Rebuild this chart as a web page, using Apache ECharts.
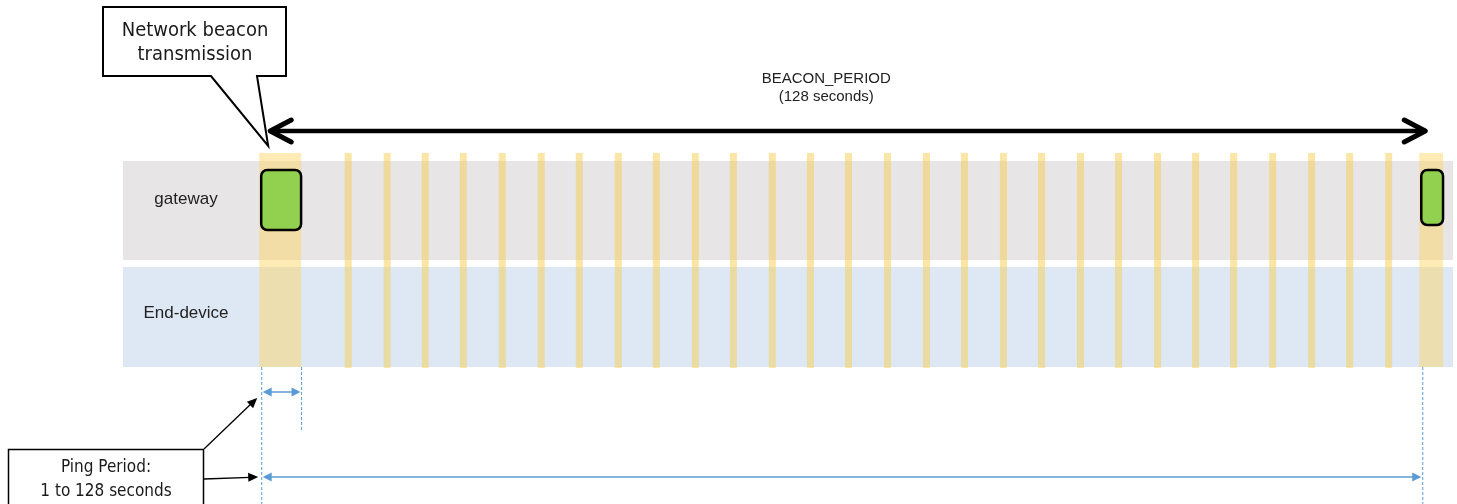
<!DOCTYPE html>
<html><head><meta charset="utf-8">
<script src="https://cdn.jsdelivr.net/npm/echarts@6/dist/echarts.min.js"></script>
<style>html,body{margin:0;padding:0;background:#fff}#c{width:1457px;height:504px}</style>
</head><body><div id="c"></div>
<script>
// ---- data (seconds) ----
const lanes = ['End-device', 'gateway'];
const beaconTimes = [0, 128];
const beaconDurations = [4.4, 2.4];
const pingSlotTimes = [9.6, 13.9, 18.1, 22.3, 26.6, 30.9, 35.1, 39.4, 43.6, 47.9, 52.1, 56.4, 60.6, 64.8,
  69.1, 73.4, 77.6, 81.9, 86.1, 90.4, 94.6, 98.9, 103.1, 107.3, 111.6, 115.9, 120.1, 124.4];
const beaconPeriod = 128;
const pingPeriodExample = 4.4;
const beaconLabel = ['BEACON_PERIOD', '(128 seconds)'];
const beaconCallout = ['Network beacon', 'transmission'];
const pingCallout = ['Ping Period:', '1 to 128 seconds'];

// ---- styles ----
const laneColors = ['#dde8f4', '#e7e5e5'];
const laneLabelDy = [46, 38];
const boxHeights = [60, 55];
const BLUE = '#5b9bd5';
const CALLOUT_FONT = '"DejaVu Sans Condensed", "DejaVu Sans", sans-serif';
const ARIAL = '"Liberation Sans", Arial, sans-serif';

function arrowHead(tipX, tipY, fromX, fromY, len, half, fill) {
  const dx = tipX - fromX, dy = tipY - fromY, L = Math.hypot(dx, dy);
  const ux = dx / L, uy = dy / L, bx = tipX - ux * len, by = tipY - uy * len;
  return { type: 'polygon', shape: { points: [[tipX, tipY], [bx - uy * half, by + ux * half], [bx + uy * half, by - ux * half]] },
    style: { fill: fill, stroke: null } };
}
function text(t, x, y, font, fill) {
  return { type: 'text', style: { text: t, x: x, y: y, font: font, fill: fill || '#222', align: 'center', verticalAlign: 'middle' } };
}

const chart = echarts.init(document.getElementById('c'), null, { renderer: 'canvas' });
chart.setOption({
  animation: false,
  backgroundColor: '#ffffff',
  grid: { left: 123, right: 4, top: 161, bottom: 137 },
  xAxis: { type: 'value', min: -15.25, max: 131.5, show: false },
  yAxis: { type: 'value', min: 0, max: 2, show: false },
  series: [
    { // lanes
      type: 'custom', clip: false, z: 1,
      data: lanes.map((l, i) => [i]),
      renderItem: function (params, api) {
        const i = api.value(0), cs = params.coordSys;
        let top = api.coord([0, i + 1])[1], bot = api.coord([0, i])[1];
        if (i === 0) top += 3; else bot -= 4;
        return { type: 'group', children: [
          { type: 'rect', shape: { x: cs.x, y: top, width: cs.width, height: bot - top }, style: { fill: laneColors[i] } },
          text(lanes[i], cs.x + 63, top + laneLabelDy[i], '17px ' + ARIAL, '#222')
        ] };
      }
    },
    { // beacon reserved slots
      type: 'custom', clip: false, z: 2,
      data: beaconTimes.map((t, i) => [t, beaconDurations[i]]),
      renderItem: function (params, api) {
        const t = api.value(0), d = api.value(1);
        const x0 = api.coord([t, 0])[0] - 2, x1 = api.coord([t + d, 0])[0];
        const top = api.coord([0, 2])[1] - 8, bot = api.coord([0, 0])[1];
        return { type: 'rect', shape: { x: x0, y: top, width: x1 - x0, height: bot - top }, style: { fill: 'rgba(255,210,90,0.45)' } };
      }
    },
    { // ping slots
      type: 'custom', clip: false, z: 2,
      data: pingSlotTimes.map(t => [t]),
      renderItem: function (params, api) {
        const xc = api.coord([api.value(0), 0])[0];
        const top = api.coord([0, 2])[1] - 8, bot = api.coord([0, 0])[1] + 1;
        return { type: 'rect', shape: { x: xc - 3.5, y: top, width: 7, height: bot - top }, style: { fill: 'rgba(248,205,80,0.5)' } };
      }
    },
    { // beacon transmissions
      type: 'custom', clip: false, z: 3,
      data: beaconTimes.map((t, i) => [t, beaconDurations[i]]),
      renderItem: function (params, api) {
        const t = api.value(0), d = api.value(1), idx = params.dataIndex;
        const x0 = api.coord([t, 0])[0], x1 = api.coord([t + d, 0])[0];
        const top = api.coord([0, 2])[1] + 9;
        return { type: 'rect', shape: { x: x0, y: top, width: x1 - x0, height: boxHeights[idx], r: 6 },
          style: { fill: '#92d050', stroke: '#000', lineWidth: 2.5 } };
      }
    },
    { // annotations
      type: 'custom', clip: false, z: 4,
      data: [[0]],
      renderItem: function (params, api) {
        const x0 = api.coord([0, 0])[0];
        const xP = api.coord([pingPeriodExample, 0])[0];
        const xB = api.coord([beaconPeriod, 0])[0];
        const yb = api.coord([0, 0])[1];
        const c = [];
        // BEACON_PERIOD double arrow
        const ay = 131, aL = x0 + 9, aR = xB + 4;
        c.push({ type: 'line', shape: { x1: aL + 2, y1: ay, x2: aR - 2, y2: ay }, style: { stroke: '#000', lineWidth: 4.5 } });
        c.push({ type: 'polyline', shape: { points: [[aL + 21, ay - 11], [aL, ay], [aL + 21, ay + 11]] }, style: { stroke: '#000', lineWidth: 5, lineCap: 'round', lineJoin: 'round', fill: null } });
        c.push({ type: 'polyline', shape: { points: [[aR - 21, ay - 11], [aR, ay], [aR - 21, ay + 11]] }, style: { stroke: '#000', lineWidth: 5, lineCap: 'round', lineJoin: 'round', fill: null } });
        const mx = (x0 + xB) / 2 - 15;
        c.push(text(beaconLabel[0], mx, 79, '15px ' + ARIAL, '#222'));
        c.push(text(beaconLabel[1], mx, 97, '15px ' + ARIAL, '#222'));
        // Network beacon callout
        c.push({ type: 'polygon', shape: { points: [[103, 7], [286, 7], [286, 76], [257, 76], [x0 + 7, 146], [211, 76], [103, 76]] },
          style: { fill: '#fff', stroke: '#000', lineWidth: 2, lineJoin: 'miter' } });
        c.push(text(beaconCallout[0], 195, 31, '20px ' + CALLOUT_FONT, '#1a1a1a'));
        c.push(text(beaconCallout[1], 195, 55, '20px ' + CALLOUT_FONT, '#1a1a1a'));
        // dashed guides
        const dash = { stroke: BLUE, lineWidth: 1, lineDash: [3, 2] };
        c.push({ type: 'line', shape: { x1: x0 + 0.5, y1: yb, x2: x0 + 0.5, y2: 504 }, style: dash });
        c.push({ type: 'line', shape: { x1: xP + 0.5, y1: yb, x2: xP + 0.5, y2: 432 }, style: dash });
        c.push({ type: 'line', shape: { x1: xB + 1.5, y1: yb, x2: xB + 1.5, y2: 504 }, style: dash });
        // blue arrows
        function blueArrow(xa, xb, y) {
          c.push({ type: 'line', shape: { x1: xa + 6, y1: y, x2: xb - 6, y2: y }, style: { stroke: BLUE, lineWidth: 1.5 } });
          c.push(arrowHead(xa, y, xb, y, 9, 4.5, BLUE));
          c.push(arrowHead(xb, y, xa, y, 9, 4.5, BLUE));
        }
        blueArrow(x0 + 1.5, xP - 0.5, 392);
        blueArrow(x0 + 1.5, xB, 477);
        // ping period callout
        c.push({ type: 'rect', shape: { x: 8.5, y: 449.5, width: 195, height: 70 }, style: { fill: '#fff', stroke: '#000', lineWidth: 1.5 } });
        c.push(text(pingCallout[0], 106, 468, '17px ' + CALLOUT_FONT, '#1a1a1a'));
        c.push(text(pingCallout[1], 106, 492, '17px ' + CALLOUT_FONT, '#1a1a1a'));
        function blackArrow(xa, ya, xb, yb2) {
          const dx = xb - xa, dy = yb2 - ya, L = Math.hypot(dx, dy);
          c.push({ type: 'line', shape: { x1: xa, y1: ya, x2: xb - dx / L * 8, y2: yb2 - dy / L * 8 }, style: { stroke: '#000', lineWidth: 1.3 } });
          c.push(arrowHead(xb, yb2, xa, ya, 10, 4.5, '#000'));
        }
        blackArrow(204, 449, x0 - 4, 398);
        blackArrow(204, 479, x0 - 3, 477);
        return { type: 'group', children: c };
      }
    }
  ]
});
</script>
</body></html>
